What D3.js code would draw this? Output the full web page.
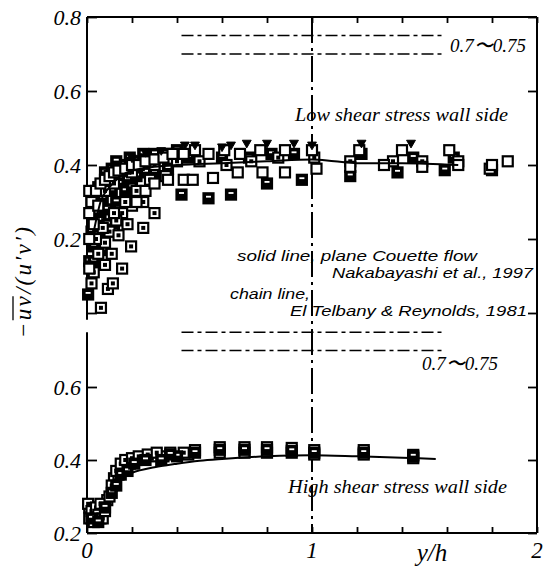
<!DOCTYPE html>
<html>
<head>
<meta charset="utf-8">
<script src="https://cdn.jsdelivr.net/npm/d3@7"></script>
<style>
  html, body { margin: 0; padding: 0; background: #fff; }
  svg { display: block; }
  .serif { font-family: "Liberation Serif", "DejaVu Serif", serif; font-style: italic; fill: #000; }
  .sans { font-family: "Liberation Sans", Arial, sans-serif; font-style: italic; fill: #000; }
</style>
</head>
<body>
<svg id="chart" width="546" height="567"></svg>
<script>
// ---- data: [y/h, -uv/(u'v')] ----
// Low shear stress wall side (upper panel)
const topOpen = [[0.01,0.33],[0.01,0.27],[0.01,0.20],[0.01,0.12],[0.02,0.30],[0.03,0.24],[0.04,0.33],[0.05,0.29],[0.06,0.35],[0.08,0.36],[0.10,0.37],[0.12,0.38],[0.14,0.385],[0.17,0.39],[0.20,0.40],[0.23,0.40],[0.26,0.41],[0.30,0.415],[0.34,0.42],[0.38,0.43],[0.43,0.43],[0.48,0.44],[0.54,0.43],[0.61,0.44],[0.68,0.43],[0.77,0.44],[0.88,0.44],[1.00,0.44],[1.02,0.39],[1.17,0.395],[1.21,0.44],[1.32,0.40],[1.40,0.44],[1.49,0.395],[1.61,0.44],[1.65,0.40],[1.80,0.40],[1.87,0.41],[0.22,0.30],[0.26,0.33],[0.30,0.35],[0.36,0.36],[0.43,0.36],[0.47,0.36],[0.56,0.365],[0.67,0.38],[0.78,0.38],[0.88,0.38]];
const topFilled = [[0.005,0.05],[0.01,0.14],[0.02,0.22],[0.03,0.18],[0.04,0.27],[0.06,0.25],[0.07,0.31],[0.09,0.28],[0.11,0.33],[0.13,0.30],[0.15,0.35],[0.18,0.36],[0.22,0.37],[0.26,0.38],[0.30,0.38],[0.36,0.39],[0.42,0.32],[0.54,0.31],[0.64,0.32],[0.80,0.35],[0.955,0.36],[1.17,0.37],[1.38,0.38],[1.59,0.386],[1.80,0.386],[0.16,0.40],[0.22,0.41],[0.28,0.42],[0.35,0.43],[0.45,0.42],[0.60,0.42],[0.72,0.42],[0.82,0.43],[0.92,0.43],[1.22,0.43],[1.45,0.42],[1.63,0.42],[0.03,0.14],[0.05,0.21],[0.07,0.17],[0.09,0.24],[0.12,0.22],[0.14,0.28],[0.17,0.33],[0.20,0.34],[0.02,0.30],[0.05,0.34],[0.08,0.38],[0.11,0.39],[0.13,0.41],[0.19,0.42],[0.25,0.43],[0.30,0.43],[0.40,0.44]];
const topDotted = [[0.062,0.014],[0.093,0.065],[0.115,0.08],[0.156,0.12],[0.196,0.18],[0.25,0.23],[0.30,0.27],[0.25,0.30],[0.20,0.29],[0.156,0.27],[0.13,0.25],[0.10,0.22],[0.08,0.19],[0.05,0.16],[0.03,0.11],[0.02,0.08],[0.04,0.20],[0.07,0.23],[0.12,0.27],[0.17,0.30],[0.22,0.33],[0.28,0.36],[0.35,0.37],[0.11,0.16],[0.08,0.13],[0.14,0.21],[0.18,0.24],[0.08,0.33],[0.12,0.35],[0.20,0.38],[0.30,0.40],[0.40,0.41],[0.50,0.41],[0.62,0.40],[0.73,0.41],[0.85,0.42],[1.01,0.42],[1.17,0.41],[1.36,0.41],[1.49,0.41],[1.65,0.41],[1.79,0.39]];
const topTriangle = [[0.20,0.42],[0.26,0.435],[0.33,0.44],[0.435,0.455],[0.48,0.455],[0.60,0.45],[0.64,0.455],[0.71,0.46],[0.80,0.46],[0.92,0.46],[1.00,0.455],[1.22,0.46],[1.44,0.46]];
// plane Couette flow (solid line), upper panel
const couetteTop = [[0.03,0.22],[0.06,0.30],[0.10,0.34],[0.15,0.37],[0.20,0.385],[0.30,0.395],[0.40,0.40],[0.60,0.405],[0.80,0.41],[1.00,0.415],[1.10,0.41],[1.20,0.405],[1.40,0.405],[1.65,0.40]];

// High shear stress wall side (lower panel)
const botDotted = [[0.005,0.28],[0.01,0.24],[0.02,0.26],[0.03,0.23],[0.04,0.27],[0.05,0.25],[0.06,0.28],[0.07,0.24],[0.08,0.26],[0.10,0.30],[0.11,0.33],[0.13,0.37],[0.15,0.39],[0.17,0.40],[0.20,0.405],[0.23,0.41],[0.27,0.415],[0.31,0.42],[0.37,0.42],[0.43,0.42],[0.48,0.427],[0.59,0.435],[0.70,0.435],[0.80,0.435],[0.91,0.433],[1.01,0.427],[1.23,0.427],[1.45,0.414]];
const botOpen = [[0.01,0.27],[0.03,0.25],[0.06,0.24],[0.09,0.29],[0.12,0.35],[0.14,0.36],[0.16,0.38],[0.19,0.39],[0.22,0.40],[0.25,0.405],[0.29,0.41],[0.34,0.41],[0.45,0.415],[0.59,0.42],[0.70,0.42],[0.80,0.42],[0.91,0.42],[1.01,0.415],[1.23,0.415],[1.45,0.405]];
const botFilled = [[0.02,0.24],[0.05,0.23],[0.08,0.27],[0.11,0.31],[0.13,0.33],[0.15,0.36],[0.18,0.37],[0.21,0.39],[0.26,0.40],[0.33,0.40],[0.40,0.41],[0.37,0.415],[0.48,0.42],[0.59,0.428],[0.70,0.428],[0.80,0.428],[0.91,0.425],[1.01,0.42],[1.23,0.42],[1.45,0.41]];
const couetteBot = [[0.13,0.345],[0.20,0.365],[0.30,0.38],[0.40,0.39],[0.50,0.398],[0.60,0.403],[0.80,0.41],[1.00,0.413],[1.20,0.41],[1.40,0.406],[1.55,0.403]];

// El Telbany & Reynolds range (chain lines)
const chainLevels = [0.70, 0.75];
const chainSpan = [0.42, 1.58];

// tick values / labels
const xTicks = [0, 0.2, 0.4, 0.6, 0.8, 1.0, 1.2, 1.4, 1.6, 1.8, 2.0];
const xLabels = ["0", "1", "2"];
const xLabelValues = [0, 1, 2];
const topYTicks = [0, 0.2, 0.4, 0.6, 0.8];
const topYLabels = ["0.2", "0.4", "0.6", "0.8"];
const botYTicks = [0.2, 0.4, 0.6];
const botYLabels = ["0.2", "0.4", "0.6"];

// ---- scales ----
const svg = d3.select("#chart");
const x = d3.scaleLinear().domain([0, 2]).range([87, 537]);
const yTop = d3.scaleLinear().domain([0, 0.8]).range([313, 17]);
const yBot = d3.scaleLinear().domain([0.2, 0.8]).range([533, 314]);

// ---- frame and axes ----
function styleAxis(g) {
  g.select(".domain").remove();
  g.selectAll(".tick line").attr("stroke", "#000").attr("stroke-width", 1.8);
  g.selectAll(".tick text").remove();
}
svg.append("g").attr("transform", "translate(0,533)")
  .call(d3.axisBottom(x).tickValues(xTicks).tickSize(-6)).call(styleAxis);
svg.append("g").attr("transform", "translate(0,17)")
  .call(d3.axisTop(x).tickValues(xTicks).tickSize(-6)).call(styleAxis);
svg.append("g").attr("transform", "translate(87,0)")
  .call(d3.axisLeft(yTop).tickValues(topYTicks).tickSize(-10)).call(styleAxis);
svg.append("g").attr("transform", "translate(87,0)")
  .call(d3.axisLeft(yBot).tickValues(botYTicks).tickSize(-10)).call(styleAxis);
svg.append("g").attr("transform", "translate(537,0)")
  .call(d3.axisRight(yTop).tickValues(topYTicks).tickSize(-9)).call(styleAxis);
svg.append("g").attr("transform", "translate(537,0)")
  .call(d3.axisRight(yBot).tickValues(botYTicks).tickSize(-9)).call(styleAxis);

const frame = svg.append("g").attr("stroke", "#000").attr("stroke-width", 2).attr("fill", "none");
frame.append("line").attr("x1", x(0)).attr("x2", x(2)).attr("y1", yTop(0.8)).attr("y2", yTop(0.8));
frame.append("line").attr("x1", x(0)).attr("x2", x(2)).attr("y1", yBot(0.2)).attr("y2", yBot(0.2));
frame.append("line").attr("x1", x(2)).attr("x2", x(2)).attr("y1", yTop(0.8)).attr("y2", yBot(0.2));
frame.append("line").attr("x1", x(0)).attr("x2", x(0)).attr("y1", yTop(0.8)).attr("y2", yTop(-0.018));
frame.append("line").attr("x1", x(0)).attr("x2", x(0)).attr("y1", yBot(0.75)).attr("y2", yBot(0.2));

// vertical chain line at y/h = 1
svg.append("line")
  .attr("x1", x(1)).attr("x2", x(1)).attr("y1", yTop(0.8)).attr("y2", yBot(0.2))
  .attr("stroke", "#000").attr("stroke-width", 2).attr("stroke-dasharray", "26,5,3,5");

// chain lines 0.7 ~ 0.75 in both panels
[yTop, yBot].forEach(ys => {
  svg.append("g").selectAll("line").data(chainLevels).join("line")
    .attr("x1", x(chainSpan[0])).attr("x2", x(chainSpan[1]))
    .attr("y1", d => ys(d)).attr("y2", d => ys(d))
    .attr("stroke", "#000").attr("stroke-width", 1.4).attr("stroke-dasharray", "12,4,4,4");
});

// ---- markers ----
const S = 10;
function squares(g, data, ys, fill, dot) {
  const m = g.append("g").selectAll("g").data(data).join("g")
    .attr("transform", d => `translate(${x(d[0])},${ys(d[1])})`);
  m.append("rect").attr("x", -S / 2).attr("y", -S / 2).attr("width", S).attr("height", S)
    .attr("fill", fill).attr("stroke", "#000").attr("stroke-width", 2.2);
  if (dot) m.append("rect").attr("x", -2).attr("y", -2).attr("width", 4).attr("height", 4).attr("fill", "#000");
  if (fill === "#000") m.append("rect").attr("x", -2.5).attr("y", -2.5).attr("width", 5).attr("height", 1.8).attr("fill", "#fff");
}
function triangles(g, data, ys) {
  const tri = d3.symbol().type(d3.symbolTriangle).size(34);
  g.append("g").selectAll("path").data(data).join("path")
    .attr("d", tri)
    .attr("transform", d => `translate(${x(d[0])},${ys(d[1])}) rotate(180)`)
    .attr("fill", "#000").attr("stroke", "#000").attr("stroke-width", 1);
}
const marks = svg.append("g");
squares(marks, topFilled, yTop, "#000", false);
squares(marks, topDotted, yTop, "#fff", true);
squares(marks, topOpen, yTop, "#fff", false);
triangles(marks, topTriangle, yTop);
squares(marks, botOpen, yBot, "#fff", false);
squares(marks, botDotted, yBot, "#fff", true);
squares(marks, botFilled, yBot, "#000", false);

// ---- Couette flow solid lines ----
const lineTop = d3.line().x(d => x(d[0])).y(d => yTop(d[1])).curve(d3.curveMonotoneX);
const lineBot = d3.line().x(d => x(d[0])).y(d => yBot(d[1])).curve(d3.curveMonotoneX);
svg.append("path").attr("d", lineTop(couetteTop)).attr("fill", "none").attr("stroke", "#000").attr("stroke-width", 2);
svg.append("path").attr("d", lineBot(couetteBot)).attr("fill", "none").attr("stroke", "#000").attr("stroke-width", 2);

// ---- tick labels ----
svg.append("g").selectAll("text").data(topYLabels).join("text")
  .attr("class", "serif").attr("x", 81).attr("y", d => yTop(+d)).attr("dy", "0.35em")
  .attr("text-anchor", "end").attr("font-size", 22).text(d => d);
svg.append("g").selectAll("text").data(botYLabels).join("text")
  .attr("class", "serif").attr("x", 81).attr("y", d => yBot(+d)).attr("dy", "0.35em")
  .attr("text-anchor", "end").attr("font-size", 22).text(d => d);
svg.append("g").selectAll("text").data(xLabelValues).join("text")
  .attr("class", "serif").attr("x", d => x(d)).attr("y", 558)
  .attr("text-anchor", "middle").attr("font-size", 23).text((d, i) => xLabels[i]);

// axis titles
svg.append("text").attr("class", "serif").attr("x", 432).attr("y", 561)
  .attr("text-anchor", "middle").attr("font-size", 25).text("y/h");

const yTitle = svg.append("g").attr("transform", "translate(31,338) rotate(-90)");
const yText = yTitle.append("text").attr("class", "serif").attr("font-size", 23)
  .attr("textLength", 111).attr("lengthAdjust", "spacing").text("−uv/(u′v′)");
const tn = yText.node();
const ox0 = tn.getStartPositionOfChar(1).x, ox1 = tn.getEndPositionOfChar(2).x;
yTitle.append("line").attr("x1", ox0).attr("x2", ox1).attr("y1", -18).attr("y2", -18)
  .attr("stroke", "#000").attr("stroke-width", 1.3);

// ---- annotations ----
svg.append("text").attr("class", "serif").attr("x", 295).attr("y", 121).attr("font-size", 18.5)
  .attr("textLength", 213).attr("lengthAdjust", "spacingAndGlyphs").text("Low shear stress wall side");
svg.append("text").attr("class", "serif").attr("x", 288).attr("y", 493).attr("font-size", 18.5)
  .attr("textLength", 219).attr("lengthAdjust", "spacingAndGlyphs").text("High shear stress wall side");
svg.append("text").attr("class", "serif").attr("x", 450).attr("y", 52).attr("font-size", 19)
  .text("0.7〜0.75");
svg.append("text").attr("class", "serif").attr("x", 422).attr("y", 370).attr("font-size", 19)
  .text("0.7〜0.75");

const notes = [
  { t: "solid line, plane Couette flow", x: 237, y: 261, w: 240 },
  { t: "Nakabayashi et al., 1997", x: 332, y: 278, w: 201 },
  { t: "chain line,", x: 230, y: 299, w: 80 },
  { t: "El Telbany & Reynolds, 1981", x: 290, y: 316, w: 237 }
];
svg.append("g").selectAll("text").data(notes).join("text")
  .attr("class", "sans").attr("x", d => d.x).attr("y", d => d.y).attr("font-size", 15.5)
  .attr("textLength", d => d.w).attr("lengthAdjust", "spacingAndGlyphs").text(d => d.t);
</script>
</body>
</html>
